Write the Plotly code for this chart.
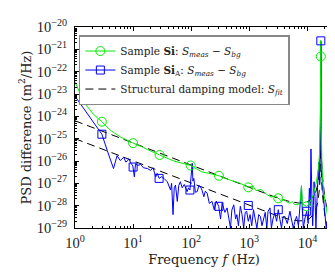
import plotly.graph_objects as go

# ---------------- data (log10 of PSD values) ----------------
green_f = [1, 1.25, 1.62, 2.1, 2.9, 4.1, 6.0, 8.1, 10, 15, 17.7, 28.6, 50, 98, 127, 152, 200,
           300, 470, 700, 960, 1150, 1300, 1600, 2000, 2400, 2800, 3150, 3600, 4000, 4500,
           5000, 5500, 6000, 6900, 7500, 7900, 8200, 9000, 9700, 10500, 11500, 12600, 13500,
           14300, 15500, 16200, 16700, 17000, 17300, 17800, 18900, 20000, 21000, 22000,
           23000, 24000, 25000, 26000, 27300]
green_log = [-22.45, -23.04, -23.55, -23.92, -24.24, -24.63, -24.92, -25.10, -25.20, -25.39,
             -25.49, -25.73, -26.00, -26.20, -26.38, -26.49, -26.55, -26.66, -26.86, -27.00,
             -27.18, -27.12, -27.32, -27.28, -27.50, -27.62, -27.55, -27.67, -27.80, -27.72,
             -27.86, -27.89, -27.82, -27.95, -27.96, -27.80, -27.10, -27.92, -28.00, -28.03,
             -27.95, -27.75, -27.52, -27.20, -26.93, -26.30, -25.60, -24.20, -20.60, -24.50,
             -26.30, -27.37, -27.70, -28.10, -28.40, -28.70, -29.00, -28.80, -29.00, -28.77]

blue_f = [1, 1.6, 2.2, 2.9, 3.6, 4.6, 5.3, 6.0, 6.9, 7.5, 8.1, 8.4, 9.2, 9.9, 10.5, 11, 12,
          13.5, 15, 17.7, 20, 22, 24.5, 26, 28, 31, 34, 38.8, 44, 46, 48.6, 51, 53.6, 57.6,
          61, 65, 70, 76, 85, 90, 95, 100, 104, 107, 111, 118, 127, 135, 144, 153, 165, 175,
          188, 205, 228, 250, 270, 297, 320, 340, 380, 414, 440, 474, 500, 540, 580, 610,
          650, 700, 750, 800, 850, 900, 960, 1030, 1100, 1180, 1260, 1350, 1450, 1550, 1650,
          1770, 1880, 2000, 2100, 2270, 2400, 2550, 2750, 2950, 3150, 3350, 3580, 3800,
          4080, 4500, 5000, 5300, 5700, 6100, 6500, 7000, 7400, 7900, 8200, 8500, 9000,
          9700, 10300, 10800, 11200, 11500, 11900, 12300, 12700, 13000, 13500, 14000,
          14500, 15000, 15700, 16200, 16600, 16900, 17000, 17100, 17400, 18000, 19000,
          20000, 21000, 22000, 23000, 24000]
blue_log = [-23.10, -23.85, -24.35, -24.80, -25.54, -26.34, -25.76, -25.98, -25.83, -26.05,
            -25.98, -25.90, -26.10, -26.22, -26.71, -26.12, -26.20, -26.15, -26.30, -26.34,
            -26.42, -26.30, -26.71, -26.55, -26.78, -26.70, -26.78, -26.93, -27.30, -27.00,
            -28.40, -27.20, -27.08, -27.81, -27.10, -26.93, -27.20, -27.05, -27.37, -27.20,
            -27.30, -26.70, -26.10, -26.90, -26.78, -27.40, -27.37, -27.10, -27.15, -27.30,
            -27.60, -27.35, -27.44, -27.90, -27.81, -28.20, -27.80, -28.03, -28.60, -27.89,
            -28.30, -28.10, -28.50, -29.00, -28.20, -27.96, -28.60, -28.40, -28.90, -28.03,
            -28.40, -29.00, -28.30, -28.25, -28.70, -28.40, -28.90, -28.18, -28.60, -29.00,
            -28.40, -28.48, -28.90, -28.62, -28.30, -29.00, -28.25, -28.10, -29.00, -28.60,
            -28.33, -28.70, -28.18, -28.60, -29.00, -28.50, -28.48, -28.80, -28.25, -28.60,
            -29.00, -28.70, -28.48, -28.90, -28.10, -27.15, -28.30, -29.00, -28.60, -28.25,
            -28.80, -27.22, -28.00, -25.46, -27.50, -28.90, -28.00, -26.93, -27.60, -29.00,
            -27.90, -27.00, -26.05, -27.00, -25.50, -23.00, -20.62, -23.50, -25.80, -27.00,
            -27.80, -28.60, -29.00, -28.70, -29.00, -29.30]

fit_f = [1, 10, 100, 1000, 3000, 5000, 7000, 9000, 11000, 13000, 14000, 15000, 16000,
         16500, 16800, 17000, 17200, 17500, 18000, 19000, 20000, 22000, 25000, 28000]
fit_si_log = [-24.20, -25.20, -26.20, -27.20, -27.65, -27.82, -27.88, -27.87, -27.77,
              -27.55, -27.36, -27.07, -26.52, -25.94, -25.16, -20.60, -25.18, -26.00,
              -26.62, -27.27, -27.67, -28.20, -28.73, -29.11]
fit_sia_log = [-25.00, -26.00, -27.00, -28.00, -28.45, -28.62, -28.68, -28.67, -28.57,
               -28.35, -28.16, -27.87, -27.32, -26.74, -25.96, -20.90, -25.98, -26.80,
               -27.42, -28.07, -28.47, -29.00, -29.53, -29.91]

green_mark_f = [2.9, 10, 28.6, 98, 300, 960, 3150, 9700, 17000, 27300]
green_mark_log = [-24.24, -25.20, -25.73, -26.20, -26.66, -27.18, -27.67, -28.03, -21.32, -28.77]
blue_mark_f = [2.9, 10, 28, 95, 300, 960, 3150, 9700, 17000]
blue_mark_log = [-24.80, -26.27, -26.78, -27.30, -28.03, -27.99, -28.18, -28.25, -20.62]

x_tick_vals = [1, 10, 100, 1000, 10000]
x_tick_text = ["10<sup>0</sup>", "10<sup>1</sup>", "10<sup>2</sup>", "10<sup>3</sup>", "10<sup>4</sup>"]
y_exps = [-29, -28, -27, -26, -25, -24, -23, -22, -21, -20]
y_tick_text = ["10<sup>\u2212%d</sup>" % (-e) for e in y_exps]

labels = ["Sample <b>Si</b>: <i>S<sub>meas</sub></i> \u2212 <i>S<sub>bg</sub></i>",
          "Sample <b>Si</b><sub>A</sub>: <i>S<sub>meas</sub></i> \u2212 <i>S<sub>bg</sub></i>",
          "Structural damping model: <i>S<sub>fit</sub></i>"]

GREEN = "#00ee00"
BLUE = "#0000ff"

def p(v):
    return [10 ** x for x in v]

fig = go.Figure()
# model curves
fig.add_trace(go.Scatter(x=fit_f, y=p(fit_si_log), mode="lines", showlegend=False,
                         line=dict(color="black", width=1, dash="8px,5px")))
fig.add_trace(go.Scatter(x=fit_f, y=p(fit_sia_log), mode="lines", showlegend=False,
                         line=dict(color="black", width=1, dash="8px,5px")))
# measurements
fig.add_trace(go.Scatter(x=blue_f, y=p(blue_log), mode="lines", showlegend=False,
                         line=dict(color=BLUE, width=1)))
fig.add_trace(go.Scatter(x=green_f, y=p(green_log), mode="lines", showlegend=False,
                         line=dict(color=GREEN, width=1)))
fig.add_trace(go.Scatter(x=green_mark_f, y=p(green_mark_log), mode="markers", showlegend=False,
                         marker=dict(symbol="circle-open", size=9, color=GREEN, line=dict(width=1))))
fig.add_trace(go.Scatter(x=blue_mark_f, y=p(blue_mark_log), mode="markers", showlegend=False,
                         marker=dict(symbol="square-open", size=8, color=BLUE, line=dict(width=1))))
# legend entries
fig.add_trace(go.Scatter(x=[None], y=[None], mode="lines+markers", name=labels[0],
                         line=dict(color=GREEN, width=1),
                         marker=dict(symbol="circle-open", size=9, color=GREEN, line=dict(width=1))))
fig.add_trace(go.Scatter(x=[None], y=[None], mode="lines+markers", name=labels[1],
                         line=dict(color=BLUE, width=1),
                         marker=dict(symbol="square-open", size=8, color=BLUE, line=dict(width=1))))
fig.add_trace(go.Scatter(x=[None], y=[None], mode="lines", name=labels[2],
                         line=dict(color="black", width=1, dash="8px,5px")))

TICKFONT = "Liberation Serif"
TEXTFONT = "DejaVu Serif"
axis_common = dict(showline=True, linecolor="black", linewidth=1, mirror="ticks",
                   ticks="inside", ticklen=4, tickcolor="black", showgrid=False, zeroline=False,
                   tickfont=dict(family=TICKFONT, size=14.5, color="#222"),
                   minor=dict(ticks="inside", ticklen=2, tickcolor="black", dtick="D1", showgrid=False))

fig.update_xaxes(type="log", range=[0, 4.44], tickmode="array", tickvals=x_tick_vals,
                 ticktext=x_tick_text, ticklabelstandoff=2,
                 title=dict(text="Frequency <i>f</i> (Hz)", font=dict(family=TEXTFONT, size=13, color="#222"),
                            standoff=4),
                 **axis_common)
fig.update_yaxes(type="log", range=[-29, -20], tickmode="array", tickvals=p(y_exps),
                 ticktext=y_tick_text, ticklabelstandoff=4,
                 title=dict(text="PSD difference (m<sup>2</sup>/Hz)", font=dict(family=TEXTFONT, size=13, color="#222"),
                            standoff=2),
                 **axis_common)

fig.update_layout(
    width=335, height=275,
    margin=dict(l=67, r=9, t=16, b=55),
    paper_bgcolor="white", plot_bgcolor="white",
    font=dict(family=TEXTFONT, color="#222"),
    legend=dict(x=0.015, y=0.96, xanchor="left", yanchor="top", bgcolor="white",
                bordercolor="#888", borderwidth=1.5, font=dict(family=TEXTFONT, size=10.5, color="#222"),
                tracegroupgap=0),
)

fig.write_html("out.html")
